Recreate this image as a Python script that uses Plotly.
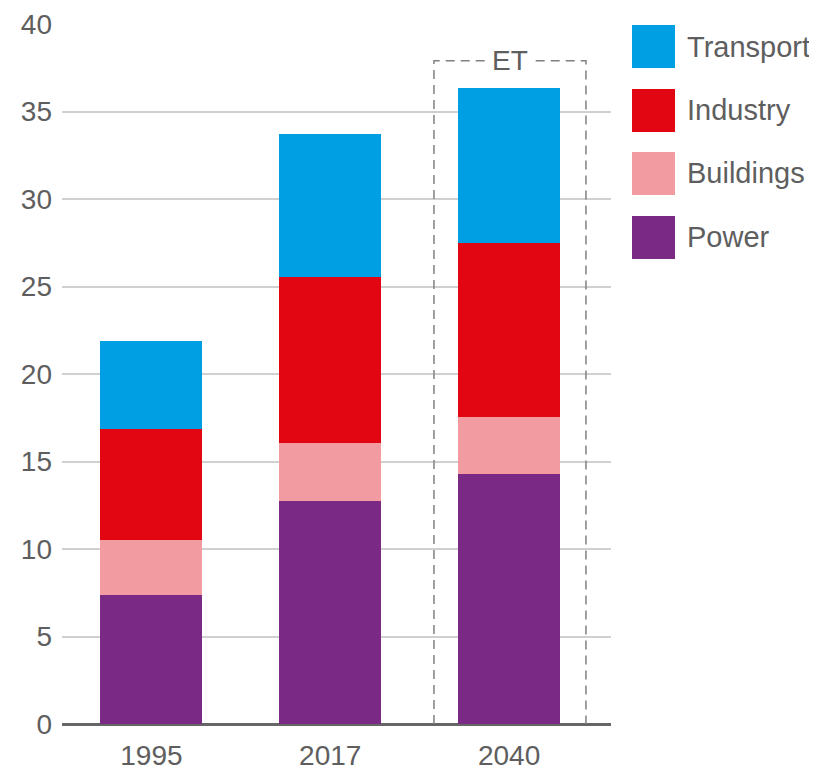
import plotly.graph_objects as go

years = ["1995", "2017", "2040"]
power = [7.35, 12.76, 14.29]
buildings = [3.16, 3.31, 3.25]
industry = [6.35, 9.47, 9.95]
transport = [5.04, 8.17, 8.87]

series_names = ["Power", "Buildings", "Industry", "Transport"]
series_values = [power, buildings, industry, transport]
colors = ["#7a2a85", "#f29ba0", "#e20613", "#009fe3"]

FONT = "Liberation Sans, Arial, sans-serif"
TXT = "#5e5e5e"

# page offset of body margin (8px)
OFF = 8
W, H = 817 - OFF, 770 - OFF
ml, mt = 62 - OFF, 24 - OFF
mr = W - (611 - OFF)
mb = H - (724 - OFF)
pw, ph = W - ml - mr, H - mt - mb

fig = go.Figure()
for name, vals, col in zip(series_names, series_values, colors):
    fig.add_trace(go.Bar(x=[0, 1, 2], y=vals, name=name, marker=dict(color=col, line=dict(width=0)),
                         width=0.57, showlegend=False))

# ET dashed box (open at the bottom)
bx0, bx1, btop = 1.58, 2.43, 37.9
fig.add_shape(type="path", xref="x", yref="y",
              path=f"M {bx0},0 L {bx0},{btop} L {bx1},{btop} L {bx1},0",
              line=dict(color="#808080", width=1.5, dash="9px,6px"), layer="above")
fig.add_annotation(x=(bx0 + bx1) / 2, y=btop, xref="x", yref="y", text="ET", showarrow=False,
                   font=dict(family=FONT, size=28, color=TXT), bgcolor="white",
                   borderpad=5, xanchor="center", yanchor="middle")

# custom legend (page pixel positions)
legend_order = ["Transport", "Industry", "Buildings", "Power"]
legend_colors = ["#009fe3", "#e20613", "#f29ba0", "#7a2a85"]
def px2paper_x(px):
    return (px - OFF - ml) / pw
def px2paper_y(py):
    return 1 - (py - OFF - mt) / ph
tops = [25, 89, 152, 216]
for lab, col, t in zip(legend_order, legend_colors, tops):
    fig.add_shape(type="rect", xref="paper", yref="paper",
                  x0=px2paper_x(632), x1=px2paper_x(675),
                  y0=px2paper_y(t + 43), y1=px2paper_y(t),
                  fillcolor=col, line=dict(width=0))
    fig.add_annotation(xref="paper", yref="paper", x=px2paper_x(685), y=px2paper_y(t + 21.5),
                       text=lab, showarrow=False, xanchor="left", yanchor="middle",
                       font=dict(family=FONT, size=29, color=TXT))

fig.update_layout(
    barmode="stack",
    width=W, height=H,
    margin=dict(l=ml, r=mr, t=mt, b=mb, autoexpand=False),
    plot_bgcolor="white", paper_bgcolor="white",
    font=dict(family=FONT, size=28, color=TXT),
    xaxis=dict(range=[-0.5, 2.57], tickmode="array", tickvals=[0, 1, 2], ticktext=years,
               showgrid=False, zeroline=False, showline=False, ticks="",
               ticklabelstandoff=12,
               tickfont=dict(size=28, color=TXT)),
    yaxis=dict(range=[0, 40], tickvals=[0, 5, 10, 15, 20, 25, 30, 35, 40],
               showgrid=True, gridcolor="#d0d0d0", gridwidth=1.5,
               zeroline=True, zerolinecolor="#666666", zerolinewidth=2.5,
               showline=False, ticks="", ticklabelstandoff=9,
               tickfont=dict(size=28, color=TXT)),
)

fig.write_html("out.html")
